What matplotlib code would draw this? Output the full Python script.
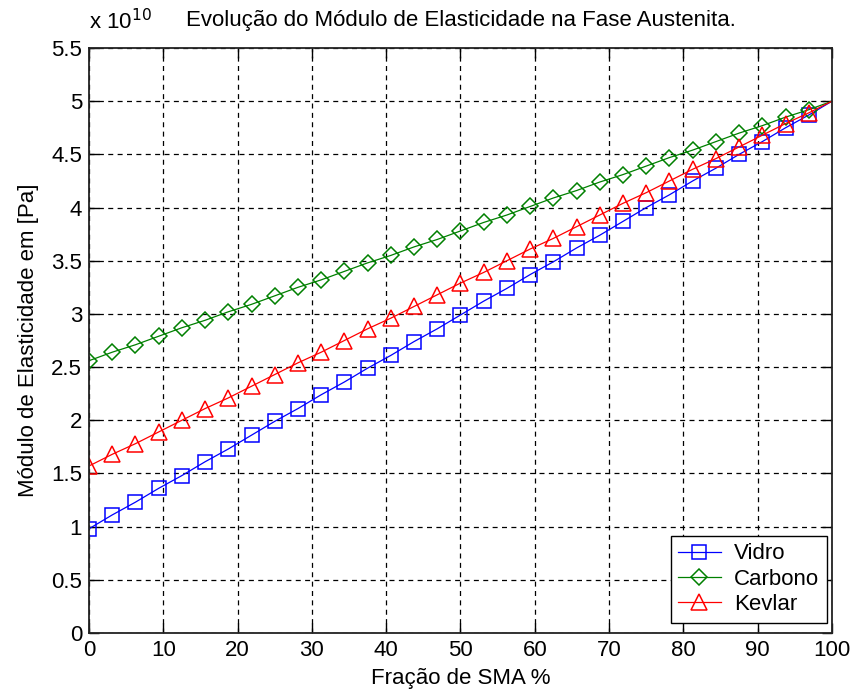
import matplotlib
matplotlib.use("Agg")
import matplotlib.pyplot as plt
from matplotlib.ticker import FuncFormatter, MultipleLocator

plt.rcParams['font.family'] = ['Liberation Sans', 'DejaVu Sans']

# Fração de SMA (%)
fracao = [0, 3.125, 6.25, 9.375, 12.5, 15.625, 18.75, 21.875, 25, 28.125,
          31.25, 34.375, 37.5, 40.625, 43.75, 46.875, 50, 53.125, 56.25, 59.375,
          62.5, 65.625, 68.75, 71.875, 75, 78.125, 81.25, 84.375, 87.5, 90.625,
          93.75, 96.875, 100]

# Módulo de elasticidade (x 1e10 Pa)
vidro = [0.98, 1.11, 1.23, 1.36, 1.48, 1.61, 1.73, 1.86, 1.99, 2.11,
         2.24, 2.36, 2.49, 2.61, 2.74, 2.86, 2.99, 3.12, 3.24, 3.37,
         3.49, 3.62, 3.74, 3.87, 4.00, 4.12, 4.25, 4.37, 4.50, 4.62,
         4.75, 4.87, 5.00]
carbono = [2.56, 2.64, 2.71, 2.79, 2.87, 2.94, 3.02, 3.09, 3.17, 3.25,
           3.32, 3.40, 3.48, 3.55, 3.63, 3.70, 3.78, 3.86, 3.93, 4.01,
           4.09, 4.16, 4.24, 4.31, 4.39, 4.47, 4.54, 4.62, 4.70, 4.77,
           4.85, 4.92, 5.00]
kevlar = [1.57, 1.68, 1.78, 1.89, 2.00, 2.11, 2.21, 2.32, 2.43, 2.54,
          2.64, 2.75, 2.86, 2.96, 3.07, 3.18, 3.29, 3.39, 3.50, 3.61,
          3.71, 3.82, 3.93, 4.04, 4.14, 4.25, 4.36, 4.46, 4.57, 4.68,
          4.79, 4.89, 5.00]

series_names = ['Vidro', 'Carbono', 'Kevlar']
scale = 1e10

fig = plt.figure(figsize=(8.54, 6.98), dpi=100)
ax = fig.add_axes([89/854, 1 - 633/698, (832 - 89)/854, (633 - 48)/698])

styles = [
    (vidro, (0, 0, 1), 's', 10),
    (carbono, (0, 0.5, 0), 'D', 8.5),
    (kevlar, (1, 0, 0), '^', 11),
]
for (vals, col, mk, ms), name in zip(styles, series_names):
    ax.plot(fracao, [v * scale for v in vals], color=col, lw=0.9,
            marker=mk, ms=ms, mfc='none', mec=col, mew=1.1,
            markevery=slice(0, len(fracao) - 1), label=name)

ax.set_xlim(0, 100)
ax.set_ylim(0, 5.5 * scale)
ax.xaxis.set_major_locator(MultipleLocator(10))
ax.yaxis.set_major_locator(MultipleLocator(0.5 * scale))
ax.yaxis.set_major_formatter(FuncFormatter(lambda v, p: f'{v / scale:g}'))
ax.xaxis.set_major_formatter(FuncFormatter(lambda v, p: f'{v:g}'))

ax.grid(True, color='black', linestyle=(0, (4, 3.5)), linewidth=0.9)
ax.tick_params(direction='in', length=7, width=1, top=True, right=True,
               labelsize=16, colors='black', pad=5)
for s in ax.spines.values():
    s.set_linewidth(1.3)
    s.set_color('#222222')

ax.set_xlabel('Fração de SMA %', fontsize=16, labelpad=5)
ax.set_ylabel('Módulo de Elasticidade em [Pa]', fontsize=16, labelpad=9)
ax.set_title('Evolução do Módulo de Elasticidade na Fase Austenita.',
             fontsize=16, pad=16)
ax.text(0.0, 1.024, r'x 10$^{10}$', transform=ax.transAxes, fontsize=16,
        ha='left', va='bottom')

leg = ax.legend(loc='lower right', bbox_to_anchor=(0.993, 0.017),
                borderaxespad=0, fontsize=16, fancybox=False, framealpha=1,
                edgecolor='black', handlelength=1.9, handletextpad=0.6,
                labelspacing=0.2, borderpad=0.35)
leg.get_frame().set_linewidth(1.0)

fig.savefig('out.png', dpi=100, facecolor='white')
